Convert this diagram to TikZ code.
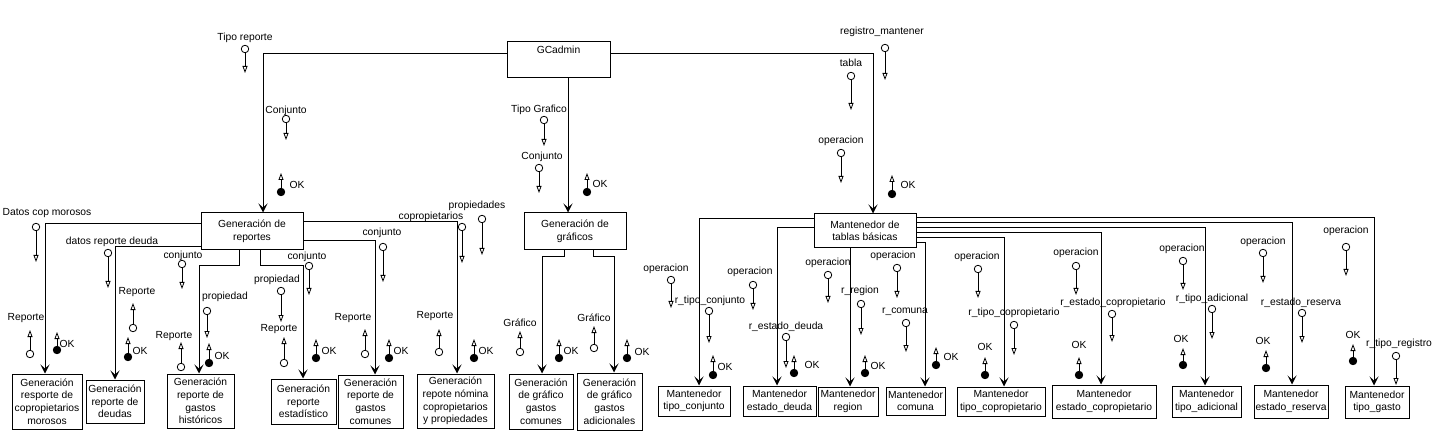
\documentclass[tikz,border=0pt]{standalone}
\usepackage{fontspec}
\setmainfont{Liberation Sans}
\usetikzlibrary{arrows.meta}
\newcommand\fsz{\fontsize{10.3}{12.6}\selectfont}
\tikzset{
 box/.style={draw, line width=1pt, align=center, inner sep=0pt, font=\fsz},
 lbl/.style={inner sep=0pt, font=\fsz},
 dc/.style={circle, draw, fill=white, minimum size=7.5pt, inner sep=0pt, line width=0.8pt},
 cc/.style={dc, fill=black},
 cplline/.style={line width=0.8pt, -{Triangle[open, length=7pt, width=5pt]}},
 flow/.style={line width=1pt, -{Stealth[length=9pt, width=9pt, inset=4pt]}},
}
% name, x, circle y, tip y, circle style, label x, label y, text
\newcommand\cpl[8]{%
  \node[#5] (#1c) at (#2,#3) {};
  \coordinate (#1t) at (#2,#4);
  \draw[cplline] (#1c) -- (#1t);
  \node[lbl] (#1l) at (#6,#7) {#8};
}
\begin{document}
\begin{tikzpicture}[x=1pt,y=-1pt]
\useasboundingbox (0,0) rectangle (1440,446);
% ---------- boxes
\node[box, minimum width=103pt, minimum height=36pt] (gc) at (558.5,60) {};
\node[lbl] (gct) at (558.5,50) {GCadmin};
\node[box, minimum width=102pt, minimum height=37pt] (rep) at (252,231.5) {Generación de\\reportes};
\node[box, minimum width=102pt, minimum height=37pt] (graf) at (575,231.5) {Generación de\\gráficos};
\node[box, minimum width=102pt, minimum height=34pt] (mant) at (865,231) {Mantenedor de\\tablas básicas};
\node[box, minimum width=70pt, minimum height=55pt] (b1) at (47,401.5) {Generación\\resporte de\\copropietarios\\morosos};
\node[box, minimum width=58pt, minimum height=43pt] (b2) at (115,401.5) {Generación\\reporte de\\deudas};
\node[box, minimum width=67pt, minimum height=54pt] (b3) at (200.5,401) {Generación\\reporte de\\gastos\\históricos};
\node[box, minimum width=65pt, minimum height=45pt] (b4) at (303.5,401.5) {Generación\\reporte\\estadístico};
\node[box, minimum width=65pt, minimum height=53pt] (b5) at (370.5,401.5) {Generación\\reporte de\\gastos\\comunes};
\node[box, minimum width=77pt, minimum height=54pt] (b6) at (455.5,401) {Generación\\repote nómina\\copropietarios\\y propiedades};
\node[box, minimum width=64pt, minimum height=55pt] (g1) at (541,401.5) {Generación\\de gráfico\\gastos\\comunes};
\node[box, minimum width=65pt, minimum height=57pt] (g2) at (609.5,401.5) {Generación\\de gráfico\\gastos\\adicionales};
\node[box, minimum width=72pt, minimum height=30pt] (m1) at (694,401) {Mantenedor\\tipo\_conjunto};
\node[box, minimum width=73pt, minimum height=30pt] (m2) at (779.5,401) {Mantenedor\\estado\_deuda};
\node[box, minimum width=60pt, minimum height=29pt] (m3) at (848,401.5) {Mantenedor\\region};
\node[box, minimum width=59pt, minimum height=28pt] (m4) at (915.5,401) {Mantenedor\\comuna};
\node[box, minimum width=88pt, minimum height=29pt] (m5) at (1001,401.5) {Mantenedor\\tipo\_copropietario};
\node[box, minimum width=104pt, minimum height=33pt] (m6) at (1104,401.5) {Mantenedor\\estado\_copropietario};
\node[box, minimum width=69pt, minimum height=31pt] (m7) at (1206.5,401.5) {Mantenedor\\tipo\_adicional};
\node[box, minimum width=74pt, minimum height=33pt] (m8) at (1291,401.5) {Mantenedor\\estado\_reserva};
\node[box, minimum width=64pt, minimum height=32pt] (m9) at (1377,402) {Mantenedor\\tipo\_gasto};
% ---------- connectors
\draw[flow] (gc.west |- 0,54) -| (rep.north -| 263,0);
\draw[flow] (gc.south -| 568,0) -- (graf.north -| 568,0);
\draw[flow] (gc.east |- 0,54) -| (mant.north -| 873,0);
\draw[flow] (rep.west |- 0,224) -| (b1.north -| 45,0);
\draw[flow] (rep.west |- 0,247) -| (b2.north -| 115,0);
\coordinate (k3) at (199,266);
\draw[flow] (rep.south -| 239,0) |- (k3) -- (b3.north -| k3);
\coordinate (k4) at (303,266);
\draw[flow] (rep.south -| 260,0) |- (k4) -- (b4.north -| k4);
\draw[flow] (rep.east |- 0,241) -| (b5.north -| 375,0);
\draw[flow] (rep.east |- 0,222) -| (b6.north -| 457,0);
\coordinate (k5) at (542,257);
\draw[flow] (graf.south -| 564,0) |- (k5) -- (g1.north -| k5);
\coordinate (k6) at (614,257);
\draw[flow] (graf.south -| 593,0) |- (k6) -- (g2.north -| k6);
\draw[flow] (mant.west |- 0,219) -| (m1.north -| 699,0);
\draw[flow] (mant.west |- 0,228) -| (m2.north -| 777,0);
\draw[flow] (mant.south -| 850,0) -- (m3.north -| 850,0);
\draw[flow] (mant.east |- 0,243) -| (m4.north -| 925,0);
\draw[flow] (mant.east |- 0,238) -| (m5.north -| 1004,0);
\draw[flow] (mant.east |- 0,233) -| (m6.north -| 1101,0);
\draw[flow] (mant.east |- 0,228) -| (m7.north -| 1205,0);
\draw[flow] (mant.east |- 0,223) -| (m8.north -| 1292,0);
\draw[flow] (mant.east |- 0,218) -| (m9.north -| 1374,0);
% ---------- couples: top
\cpl{tr}{245}{49}{73}{dc}{245}{38}{Tipo reporte}
\cpl{cja}{286}{119}{140}{dc}{286}{111}{Conjunto}
\cpl{oka}{281}{192}{173}{cc}{297}{185}{OK}
\cpl{tg}{544}{120}{146}{dc}{539}{110}{Tipo Grafico}
\cpl{cjb}{539}{168}{193}{dc}{542}{157}{Conjunto}
\cpl{okb}{587}{192}{173}{cc}{600}{184}{OK}
\cpl{rm}{885}{48}{80}{dc}{882}{32}{registro\_mantener}
\cpl{tb}{851}{76}{110}{dc}{851}{63}{tabla}
\cpl{opa}{841}{153}{183}{dc}{841}{141}{operacion}
\cpl{okc}{892}{194}{175}{cc}{908}{185}{OK}
% ---------- couples: reportes
\cpl{dcm}{36}{227}{262}{dc}{47}{213}{Datos cop morosos}
\cpl{drd}{108}{253}{288}{dc}{112}{242}{datos reporte deuda}
\cpl{rpa}{30}{354}{330}{dc}{26}{318}{Reporte}
\cpl{okd}{57}{350}{332}{cc}{67}{344}{OK}
\cpl{rpb}{133}{328}{303}{dc}{137}{292}{Reporte}
\cpl{oke}{128}{357}{337}{cc}{140}{351}{OK}
\cpl{cjc}{182}{264}{289}{dc}{183}{256}{conjunto}
\cpl{pra}{207}{311}{338}{dc}{225}{297}{propiedad}
\cpl{rpc}{181}{367}{342}{dc}{174}{336}{Reporte}
\cpl{okf}{209}{363}{343}{cc}{222}{356}{OK}
\cpl{prb}{281}{291}{322}{dc}{277}{280}{propiedad}
\cpl{rpd}{284}{363}{337}{dc}{279}{329}{Reporte}
\cpl{cjd}{309}{266}{295}{dc}{307}{257}{conjunto}
\cpl{okg}{316}{358}{339}{cc}{329}{351}{OK}
\cpl{cje}{383}{247}{282}{dc}{382}{233}{conjunto}
\cpl{rpe}{365}{354}{329}{dc}{353}{318}{Reporte}
\cpl{okh}{389}{358}{339}{cc}{401}{351}{OK}
\cpl{cp}{462}{227}{263}{dc}{431}{217}{copropietarios}
\cpl{pp}{482}{219}{255}{dc}{477}{206}{propiedades}
\cpl{rpf}{439}{352}{329}{dc}{435}{316}{Reporte}
\cpl{oki}{474}{358}{339}{cc}{486}{351}{OK}
% ---------- couples: graficos
\cpl{gfa}{520}{352}{331}{dc}{520}{323}{Gráfico}
\cpl{okj}{559}{358}{339}{cc}{571}{351}{OK}
\cpl{gfb}{594}{348}{326}{dc}{594}{318}{Gráfico}
\cpl{okk}{627}{358}{339}{cc}{642}{352}{OK}
% ---------- couples: mantenedor
\cpl{opb}{671}{280}{308}{dc}{666}{269}{operacion}
\cpl{rtc}{709}{311}{343}{dc}{710}{301}{r\_tipo\_conjunto}
\cpl{okl}{713}{375}{355}{cc}{725}{367}{OK}
\cpl{opc}{753}{285}{310}{dc}{750}{272}{operacion}
\cpl{red}{786}{337}{368}{dc}{786}{327}{r\_estado\_deuda}
\cpl{okm}{794}{373}{355}{cc}{812}{365}{OK}
\cpl{opd}{828}{275}{303}{dc}{828}{263}{operacion}
\cpl{rr}{861}{304}{335}{dc}{860}{291}{r\_region}
\cpl{okn}{865}{373}{355}{cc}{878}{366}{OK}
\cpl{ope}{897}{268}{298}{dc}{893}{256}{operacion}
\cpl{rc}{906}{323}{352}{dc}{905}{312}{r\_comuna}
\cpl{oko}{936}{365}{347}{cc}{951}{357}{OK}
\cpl{opf}{978}{269}{298}{dc}{977}{257}{operacion}
\cpl{rtcp}{1014}{325}{355}{dc}{1014}{313}{r\_tipo\_copropietario}
\cpl{okp}{985}{375}{357}{cc}{985}{347}{OK}
\cpl{opg}{1076}{266}{295}{dc}{1076}{253}{operacion}
\cpl{recp}{1112}{314}{342}{dc}{1113}{303}{r\_estado\_copropietario}
\cpl{okq}{1079}{375}{357}{cc}{1079}{345}{OK}
\cpl{oph}{1183}{261}{290}{dc}{1182}{249}{operacion}
\cpl{rta}{1212}{309}{339}{dc}{1212}{299}{r\_tipo\_adicional}
\cpl{okr}{1183}{365}{348}{cc}{1181}{339}{OK}
\cpl{opi}{1263}{253}{283}{dc}{1263}{242}{operacion}
\cpl{rer}{1302}{313}{343}{dc}{1301}{303}{r\_estado\_reserva}
\cpl{oks}{1266}{368}{350}{cc}{1263}{341}{OK}
\cpl{opj}{1346}{247}{276}{dc}{1346}{231}{operacion}
\cpl{okt}{1353}{361}{344}{cc}{1353}{335}{OK}
\cpl{rtr}{1396}{356}{385}{dc}{1399}{344}{r\_tipo\_registro}
\end{tikzpicture}
\end{document}
